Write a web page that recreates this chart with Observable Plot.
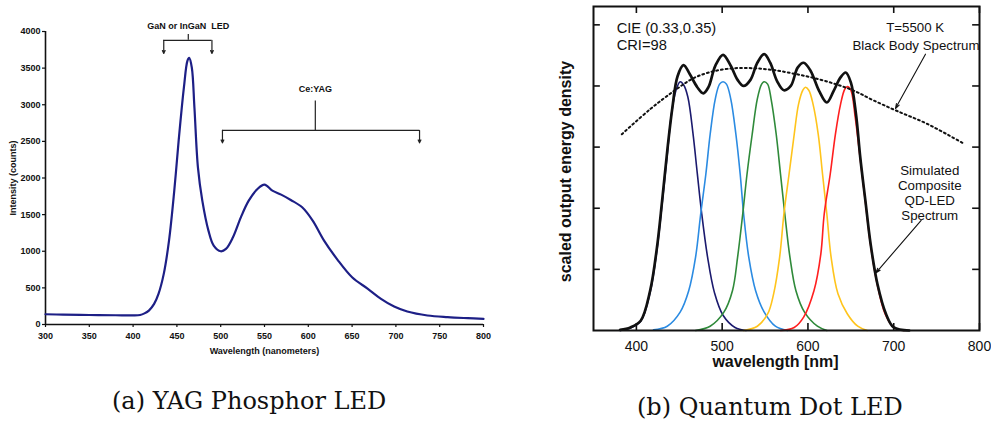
<!DOCTYPE html>
<html>
<head>
<meta charset="utf-8">
<script src="https://cdn.jsdelivr.net/npm/d3@7"></script>
<script src="https://cdn.jsdelivr.net/npm/@observablehq/plot@0.6"></script>
<style>
  html, body { margin: 0; padding: 0; background: #fff; }
  #page { position: relative; width: 991px; height: 424px; overflow: hidden; background: #fff; }
  #panelA { position: absolute; left: 0; top: 0; }
  #panelB { position: absolute; left: 540px; top: 0; }
  .caption { position: absolute; font-family: "DejaVu Serif", serif; font-size: 24px; color: #111; white-space: nowrap; }
</style>
</head>
<body>
<div id="page">
  <div id="panelA"></div>
  <div id="panelB"></div>
  <div class="caption" style="left:112px; top:387px">(a) YAG Phosphor LED</div>
  <div class="caption" style="left:637px; top:393px">(b) Quantum Dot LED</div>
</div>
<script>
// ---------- (a) measured white-LED spectrum ----------
const yagWavelength = [300, 320, 350, 380, 400, 408, 413, 418, 424, 429, 435, 441, 447, 452, 458, 462, 464, 467, 470, 474,
  479, 486, 492, 500, 506, 514, 523, 532, 542, 550, 559, 569, 580, 593, 605, 618, 633, 650, 668, 683, 698, 713, 736, 759, 782, 800];
const yagIntensity = [140, 135, 130, 126, 124, 130, 152, 190, 282, 418, 691, 1145, 1827, 2509, 3236, 3600, 3640, 3509, 2963, 2145,
  1691, 1282, 1077, 1000, 1032, 1191, 1463, 1691, 1850, 1909, 1827, 1773, 1700, 1600, 1418, 1145, 890, 645, 487, 350, 245, 177, 123, 100, 86, 77];
const yagTicksX = [300, 350, 400, 450, 500, 550, 600, 650, 700, 750, 800];
const yagTicksY = [0, 500, 1000, 1500, 2000, 2500, 3000, 3500, 4000];

// bracket annotations: [left end, stem, right end] in nm; levels in counts
const ledBracket = [435, 463, 490];
const ledLevels = {bar: 3880, stemTop: 3960, tip: 3700, label: 4075};
const yagBracket = [502, 608, 727];
const yagLevels = {bar: 2650, stemTop: 3050, tip: 2480, label: 3215};

// ---------- (b) quantum-dot LED spectra ----------
const navyWl = [381, 393, 405, 416, 424, 430, 436, 441, 446, 451, 455, 460, 466, 471, 476, 483, 491, 501, 515, 528];
const navyVal = [0, 0.04, 0.15, 0.62, 1.32, 2.07, 2.88, 3.55, 3.92, 4.07, 4.02, 3.82, 3.22, 2.57, 1.93, 1.20, 0.62, 0.25, 0.05, 0];
const blueWl = [420, 436, 451, 461, 469, 475, 481, 486, 492, 497, 501, 505, 510, 516, 521, 525, 531, 539, 549, 562, 576];
const blueVal = [0.01, 0.07, 0.30, 0.65, 1.20, 1.91, 2.56, 3.21, 3.79, 4.03, 4.07, 4.03, 3.79, 3.21, 2.56, 1.91, 1.20, 0.65, 0.30, 0.07, 0];
const greenWl = [469, 486, 502, 512, 518, 524, 529, 535, 541, 546, 549, 553, 557, 563, 568, 573, 579, 586, 596, 611, 622];
const greenVal = [0, 0.07, 0.30, 0.65, 1.20, 1.91, 2.56, 3.21, 3.79, 4.03, 4.07, 4.03, 3.79, 3.21, 2.56, 1.91, 1.20, 0.65, 0.30, 0.07, 0];
const yellowWl = [525, 541, 553, 560, 567, 572, 578, 584, 589, 594, 597, 601, 606, 612, 617, 622, 627, 635, 646, 658, 669];
const yellowVal = [0, 0.07, 0.27, 0.60, 1.20, 1.91, 2.56, 3.21, 3.70, 3.93, 3.98, 3.93, 3.70, 3.21, 2.56, 1.91, 1.20, 0.60, 0.27, 0.07, 0];
const redWl = [568, 584, 595, 607, 615, 619, 626, 632, 638, 643, 646, 650, 655, 661, 667, 673, 681, 690, 700, 712];
const redVal = [0, 0.05, 0.22, 0.65, 1.25, 1.91, 2.56, 3.21, 3.70, 3.95, 3.99, 3.93, 3.50, 2.80, 2.10, 1.40, 0.74, 0.27, 0.05, 0];
const compositeWl = [381, 393, 405, 416, 424, 430, 436, 442, 448, 455, 462, 471, 478, 484, 492, 501, 510, 518, 525, 533,
  541, 549, 556, 564, 572, 580, 588, 595, 603, 613, 622, 630, 638, 644, 650, 656, 661, 667, 673, 681, 691, 700, 718];
const compositeVal = [0.01, 0.05, 0.16, 0.65, 1.36, 2.12, 2.94, 3.65, 4.16, 4.34, 4.20, 3.98, 3.88, 3.98, 4.33, 4.51, 4.33, 4.10, 4.00, 4.10,
  4.38, 4.52, 4.38, 4.08, 3.93, 4.00, 4.30, 4.38, 4.25, 3.92, 3.73, 3.92, 4.14, 4.22, 4.06, 3.54, 2.83, 2.12, 1.42, 0.76, 0.27, 0.05, 0];
const blackbodyWl = [383, 416, 444, 467, 490, 514, 537, 560, 584, 607, 630, 654, 677, 704, 739, 780];
const blackbodyVal = [3.21, 3.62, 3.92, 4.13, 4.24, 4.29, 4.29, 4.26, 4.20, 4.13, 4.04, 3.92, 3.76, 3.59, 3.38, 3.07];
const qdTicksX = [400, 500, 600, 700, 800];
const qdTicksY = [1, 2, 3, 4, 5];

const qdNotesLeft = [
  {text: "CIE (0.33,0.35)", x: 377, y: 4.95},
  {text: "CRI=98", x: 377, y: 4.66}
];
const qdNotesRight = [
  {text: "T=5500 K", x: 725, y: 4.95},
  {text: "Black Body Spectrum", x: 726, y: 4.66},
  {text: "Simulated", x: 742, y: 2.62},
  {text: "Composite", x: 742, y: 2.37},
  {text: "QD-LED", x: 742, y: 2.13},
  {text: "Spectrum", x: 742, y: 1.88}
];
const qdPointers = [
  {x1: 737, y1: 4.52, x2: 702, y2: 3.63},
  {x1: 732, y1: 1.80, x2: 679, y2: 0.94}
];

const zip = (xs, ys) => xs.map((x, i) => ({x, y: ys[i]}));
const sans = "'Liberation Sans', Arial, Helvetica, sans-serif";

// ---------- draw (a) ----------
const yagSpectrum = zip(yagWavelength, yagIntensity);
const ledEnds = [ledBracket[0], ledBracket[2]];
const yagEnds = [yagBracket[0], yagBracket[2]];

const plotA = Plot.plot({
  width: 495, height: 365,
  marginLeft: 45, marginRight: 12, marginTop: 31, marginBottom: 41,
  x: {domain: [300, 800]},
  y: {domain: [0, 4000]},
  style: {fontFamily: sans, fontSize: "9px", fontWeight: "bold", color: "#111", background: "#fff"},
  marks: [
    Plot.axisX({ticks: yagTicksX, tickSize: 3, tickPadding: 5, tickFormat: "d", label: null, strokeWidth: 1.2}),
    Plot.axisY({ticks: yagTicksY, tickSize: 3, tickPadding: 2, tickFormat: "d", label: null, strokeWidth: 1.2}),
    Plot.ruleX([300], {stroke: "#111", strokeWidth: 1.6}),
    Plot.ruleY([0], {stroke: "#111", strokeWidth: 1.6}),
    Plot.line(yagSpectrum, {x: "x", y: "y", stroke: "#1d1f86", strokeWidth: 2.2, curve: "catmull-rom"}),
    // LED bracket
    Plot.ruleY([ledLevels.bar], {x1: ledBracket[0], x2: ledBracket[2], stroke: "#222", strokeWidth: 1.2}),
    Plot.ruleX([ledBracket[1]], {y1: ledLevels.bar, y2: ledLevels.stemTop, stroke: "#222", strokeWidth: 1.2}),
    Plot.arrow(ledEnds, {x: d => d, y1: ledLevels.bar, y2: ledLevels.tip, stroke: "#222", strokeWidth: 1.2, headLength: 4, headAngle: 50}),
    Plot.text(["GaN or InGaN\u00a0 LED"], {x: ledBracket[1], y: ledLevels.label, fontSize: 9, fontWeight: "bold"}),
    // Ce:YAG bracket
    Plot.ruleY([yagLevels.bar], {x1: yagBracket[0], x2: yagBracket[2], stroke: "#222", strokeWidth: 1.2}),
    Plot.ruleX([yagBracket[1]], {y1: yagLevels.bar, y2: yagLevels.stemTop, stroke: "#222", strokeWidth: 1.2}),
    Plot.arrow(yagEnds, {x: d => d, y1: yagLevels.bar, y2: yagLevels.tip, stroke: "#222", strokeWidth: 1.2, headLength: 4, headAngle: 50}),
    Plot.text(["Ce:YAG"], {x: yagBracket[1], y: yagLevels.label, fontSize: 9, fontWeight: "bold"}),
    // axis titles
    Plot.text(["Wavelength (nanometers)"], {frameAnchor: "bottom", dy: 29, fontSize: 9, fontWeight: "bold"}),
    Plot.text(["Intensity (counts)"], {frameAnchor: "left", textAnchor: "middle", rotate: -90, dx: -32, fontSize: 9, fontWeight: "bold"})
  ]
});
document.getElementById("panelA").appendChild(plotA);

// ---------- draw (b) ----------
const series = [
  {data: zip(navyWl, navyVal), color: "#1b1a6e"},
  {data: zip(blueWl, blueVal), color: "#2b8be2"},
  {data: zip(greenWl, greenVal), color: "#2f8a3a"},
  {data: zip(yellowWl, yellowVal), color: "#ffc41c"},
  {data: zip(redWl, redVal), color: "#ff1f1f"}
];
const yTop = 5.3;

const plotB = Plot.plot({
  width: 451, height: 375,
  marginLeft: 53, marginRight: 12, marginTop: 6, marginBottom: 45,
  x: {domain: [350, 800]},
  y: {domain: [0, yTop], axis: null},
  style: {fontFamily: sans, fontSize: "14px", color: "#111", background: "#fff"},
  marks: [
    Plot.axisX({ticks: qdTicksX, tickSize: 0, tickPadding: 11, label: null, fontSize: 14}),
    // inward ticks on all four sides
    Plot.ruleX(qdTicksX, {y1: 0, y2: 0.115, stroke: "#111", strokeWidth: 1.6}),
    Plot.ruleX(qdTicksX, {y1: yTop, y2: yTop - 0.115, stroke: "#111", strokeWidth: 1.6}),
    Plot.ruleY(qdTicksY, {x1: 350, x2: 358, stroke: "#111", strokeWidth: 1.6}),
    Plot.ruleY(qdTicksY, {x1: 800, x2: 792, stroke: "#111", strokeWidth: 1.6}),
    ...series.map(s => Plot.line(s.data, {x: "x", y: "y", stroke: s.color, strokeWidth: 1.6, curve: "catmull-rom"})),
    Plot.line(zip(compositeWl, compositeVal), {x: "x", y: "y", stroke: "#111", strokeWidth: 2.7, curve: "catmull-rom"}),
    Plot.line(zip(blackbodyWl, blackbodyVal), {x: "x", y: "y", stroke: "#111", strokeWidth: 2, strokeDasharray: "1.8,3", curve: "catmull-rom"}),
    Plot.frame({stroke: "#111", strokeWidth: 2}),
    Plot.arrow(qdPointers, {x1: "x1", y1: "y1", x2: "x2", y2: "y2", stroke: "#111", strokeWidth: 1.1, headLength: 7, headAngle: 35}),
    Plot.text(qdNotesLeft, {x: "x", y: "y", text: "text", textAnchor: "start", fontSize: 14.7}),
    Plot.text(qdNotesRight, {x: "x", y: "y", text: "text", fontSize: 13.3}),
    Plot.text(["wavelength [nm]"], {frameAnchor: "bottom", dx: -11, dy: 36, fontSize: 16, fontWeight: "bold"}),
    Plot.text(["scaled output energy density"], {frameAnchor: "left", textAnchor: "middle", rotate: -90, dx: -28, dy: 3, fontSize: 16, fontWeight: "bold"})
  ]
});
document.getElementById("panelB").appendChild(plotB);
</script>
</body>
</html>
